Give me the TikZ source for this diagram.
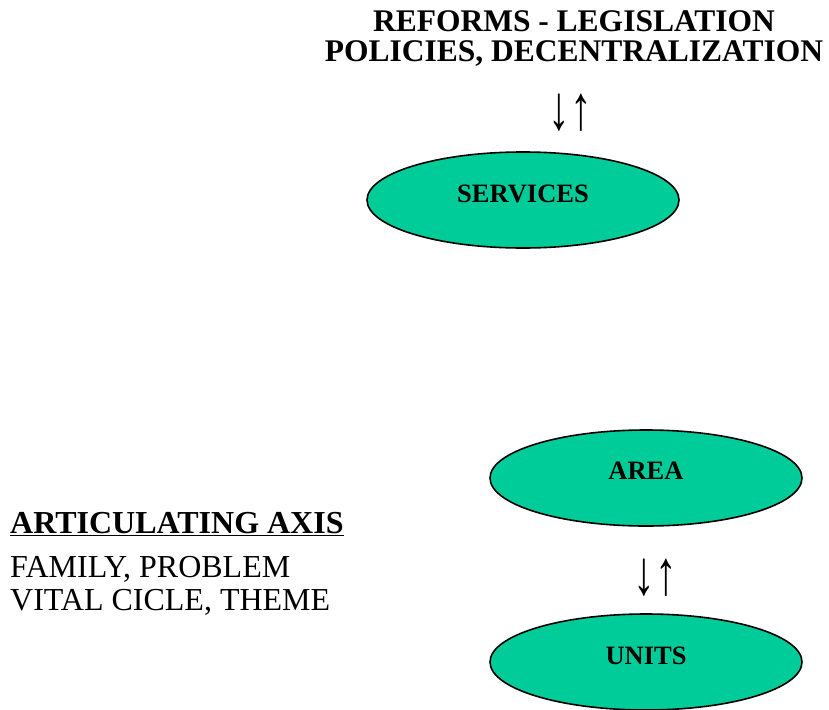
\documentclass[tikz,border=0pt]{standalone}
\usepackage{fontspec}
\setmainfont{Liberation Serif}
\usetikzlibrary{shapes.geometric}
\definecolor{ovalgreen}{RGB}{0,204,153}
\tikzset{
  oval/.style={ellipse, draw=black, line width=1.6pt, fill=ovalgreen, minimum width=312pt, minimum height=96pt, inner sep=0pt, font=\fontsize{26.5}{30}\selectfont\bfseries},
  title/.style={font=\fontsize{31.5}{30}\selectfont\bfseries, align=center, inner sep=0pt, anchor=base},
  arr/.style={font=\fontsize{36}{36}\selectfont\bfseries, inner sep=0pt},
  lefttext/.style={font=\fontsize{32}{33}\selectfont, align=left, inner sep=0pt, anchor=base west}
}
\begin{document}
\begin{tikzpicture}[x=1pt,y=-1pt]
\useasboundingbox (0,0) rectangle (829,709);
\node[title] (head) at (574,62) {REFORMS - LEGISLATION\\POLICIES, DECENTRALIZATION};
\node[arr] (a1) at (570,113) {\scalebox{1.2}[1.75]{↓↑}};
\node[oval] (services) at (523,200) {\raisebox{12pt}{SERVICES}};
\node[oval] (area) at (646,478) {\raisebox{14pt}{AREA}};
\node[arr] (a2) at (655,578) {\scalebox{1.2}[1.75]{↓↑}};
\node[oval] (units) at (646,662) {\raisebox{13pt}{UNITS}};
\node[lefttext, font=\fontsize{32}{33}\selectfont\bfseries] (axis) at (10,533) {\underline{ARTICULATING AXIS}};
\node[lefttext] (items) at (10,610) {FAMILY, PROBLEM\\VITAL CICLE, THEME};
\end{tikzpicture}
\end{document}
